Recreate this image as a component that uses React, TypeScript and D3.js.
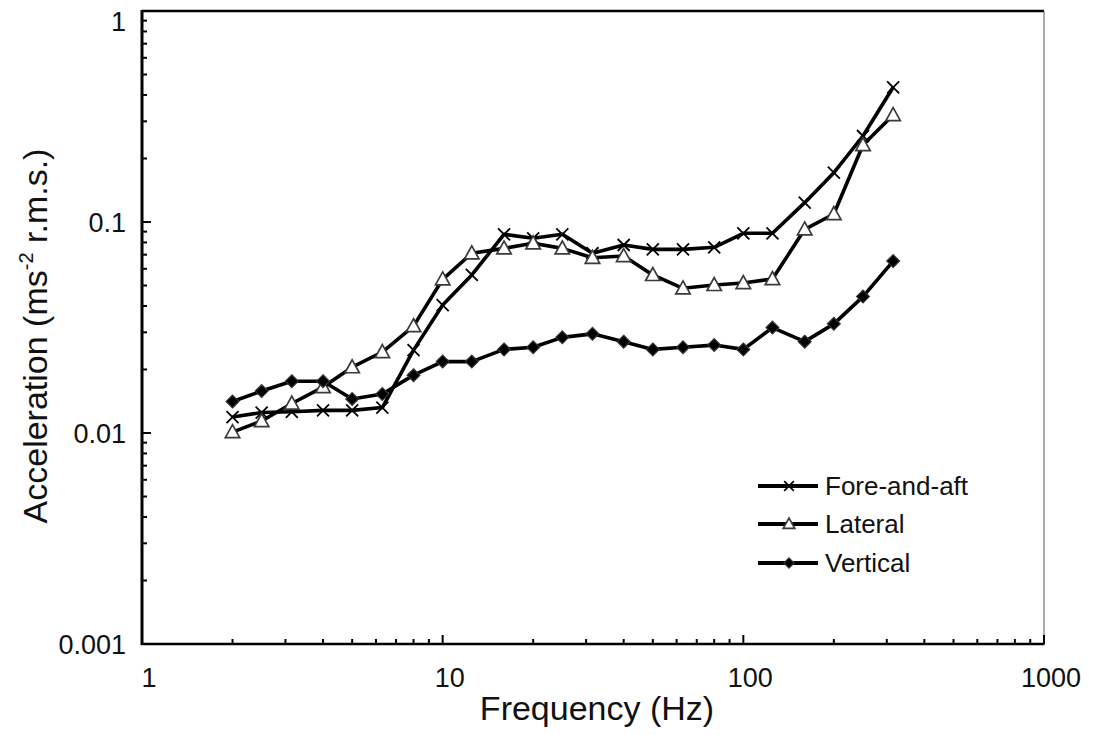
import * as d3 from 'd3';

// third-octave band centre frequencies (Hz)
const freqs = [2, 2.5, 3.15, 4, 5, 6.3, 8, 10, 12.5, 16, 20, 25, 31.5, 40, 50, 63, 80, 100, 125, 160, 200, 250, 315];

// r.m.s. acceleration (m/s^2)
const foreAft = [0.0119, 0.0125, 0.0126, 0.0128, 0.0128, 0.0132, 0.0247, 0.0404, 0.0561, 0.0874, 0.0837, 0.0874, 0.0711, 0.0778, 0.0742, 0.0742, 0.0759, 0.0884, 0.0884, 0.1235, 0.1713, 0.2556, 0.435];
const lateral = [0.0101, 0.0114, 0.0138, 0.0165, 0.0205, 0.0242, 0.0321, 0.0535, 0.0711, 0.075, 0.0793, 0.075, 0.0677, 0.069, 0.0561, 0.0485, 0.0503, 0.0514, 0.0537, 0.0923, 0.1091, 0.2317, 0.3214];
const vertical = [0.0141, 0.0158, 0.0176, 0.0176, 0.0145, 0.0153, 0.0188, 0.0218, 0.0218, 0.0249, 0.0255, 0.0284, 0.0295, 0.0271, 0.0249, 0.0255, 0.0261, 0.0249, 0.0316, 0.0271, 0.0329, 0.0443, 0.0653];

const seriesNames = ['Fore-and-aft', 'Lateral', 'Vertical'];
const xTickLabels = ['1', '10', '100', '1000'];
const yTickLabels = ['0.001', '0.01', '0.1', '1'];

const FONT = "'Liberation Sans', Arial, sans-serif";

type MarkerKind = 'cross' | 'triangle' | 'diamond';

function Marker({ kind, x, y, s = 1 }: { kind: MarkerKind; x: number; y: number; s?: number }) {
  if (kind === 'cross') {
    const r = 6 * s;
    return (
      <path
        d={`M${x - r},${y - r}L${x + r},${y + r}M${x - r},${y + r}L${x + r},${y - r}`}
        stroke="#000"
        strokeWidth={1.8}
        fill="none"
      />
    );
  }
  if (kind === 'triangle') {
    const h = 7.4 * s;
    const w = 7.2 * s;
    return (
      <path
        d={`M${x},${y - h}L${x + w},${y + h * 0.75}L${x - w},${y + h * 0.75}Z`}
        stroke="#3a3a3a"
        strokeWidth={1.7}
        fill="#fff"
      />
    );
  }
  const r = 6.4 * s;
  return (
    <path
      d={`M${x},${y - r}L${x + r},${y}L${x},${y + r}L${x - r},${y}Z`}
      stroke="#333"
      strokeWidth={1.2}
      fill="#000"
    />
  );
}

export default function App() {
  const width = 1093;
  const height = 735;
  const left = 142;
  const right = 1044;
  const top = 11;
  const bottom = 644;

  const x = d3.scaleLog().domain([1, 1000]).range([left, right]);
  const y = d3.scaleLog().domain([0.001, 1]).range([bottom, top]);

  const isMajor = (v: number) => Math.abs(Math.log10(v) - Math.round(Math.log10(v))) < 1e-9;

  const xTicks = x.ticks();
  const yTicks = y.ticks();

  const line = d3
    .line<number>()
    .x((_, i) => x(freqs[i]))
    .y((d) => y(d));

  const series: { name: string; values: number[]; kind: MarkerKind }[] = [
    { name: seriesNames[0], values: foreAft, kind: 'cross' },
    { name: seriesNames[1], values: lateral, kind: 'triangle' },
    { name: seriesNames[2], values: vertical, kind: 'diamond' },
  ];

  const legendX0 = 758;
  const legendX1 = 818;
  const legendRows = [486, 524, 563];

  // Excel pushes the topmost label down so it stays inside the chart
  const yLabelPos = (v: number) => Math.max(y(v) + 10, 31);

  return (
    <svg
      width={width}
      height={height}
      style={{ position: 'absolute', left: 0, top: 0, background: '#fff' }}
      fontFamily={FONT}
    >
      <rect x={0} y={0} width={width} height={height} fill="#fff" />

      {/* frame */}
      <line x1={left} y1={top} x2={right} y2={top} stroke="#000" strokeWidth={2.5} />
      <line x1={right} y1={top} x2={right} y2={bottom} stroke="#555" strokeWidth={1} />

      {/* x ticks */}
      {xTicks.map((t, i) => (
        <line
          key={'xt' + i}
          x1={x(t)}
          x2={x(t)}
          y1={bottom}
          y2={bottom - (isMajor(t) ? 9 : 5)}
          stroke="#000"
          strokeWidth={2}
        />
      ))}
      {/* y ticks */}
      {yTicks.map((t, i) => (
        <line
          key={'yt' + i}
          x1={left}
          x2={left + (isMajor(t) ? 9 : 5)}
          y1={y(t)}
          y2={y(t)}
          stroke="#000"
          strokeWidth={2}
        />
      ))}

      {/* axes */}
      <line x1={left} y1={top - 1} x2={left} y2={bottom + 1} stroke="#000" strokeWidth={3} />
      <line x1={left - 1} y1={bottom} x2={right + 0.5} y2={bottom} stroke="#000" strokeWidth={2.5} />

      {/* tick labels */}
      {xTickLabels.map((lab) => (
        <text key={'xl' + lab} x={x(+lab) + 7} y={687} fontSize={27} textAnchor="middle" fill="#111">
          {lab}
        </text>
      ))}
      {yTickLabels.map((lab) => (
        <text key={'yl' + lab} x={126} y={yLabelPos(+lab)} fontSize={27} textAnchor="end" fill="#111">
          {lab}
        </text>
      ))}

      {/* axis titles */}
      <text x={597} y={720} fontSize={34} textAnchor="middle" fill="#111">
        Frequency (Hz)
      </text>
      <text
        transform={`translate(47,${336}) rotate(-90)`}
        fontSize={34}
        textAnchor="middle"
        fill="#111"
      >
        Acceleration (ms
        <tspan fontSize={20} dy={-14}>
          -2
        </tspan>
        <tspan dy={14}> r.m.s.)</tspan>
      </text>

      {/* series */}
      {series.map((s) => (
        <g key={s.name}>
          <path d={line(s.values) || ''} fill="none" stroke="#000" strokeWidth={3.6} strokeLinejoin="round" />
          {s.values.map((v, i) => (
            <Marker key={i} kind={s.kind} x={x(freqs[i])} y={y(v)} />
          ))}
        </g>
      ))}

      {/* legend */}
      {series.map((s, i) => (
        <g key={'lg' + s.name}>
          <line
            x1={legendX0}
            x2={legendX1}
            y1={legendRows[i]}
            y2={legendRows[i]}
            stroke="#000"
            strokeWidth={4}
          />
          <Marker kind={s.kind} x={(legendX0 + legendX1) / 2 + 1} y={legendRows[i]} s={0.8} />
          <text x={825} y={legendRows[i] + 9} fontSize={26} fill="#111">
            {s.name}
          </text>
        </g>
      ))}
    </svg>
  );
}
